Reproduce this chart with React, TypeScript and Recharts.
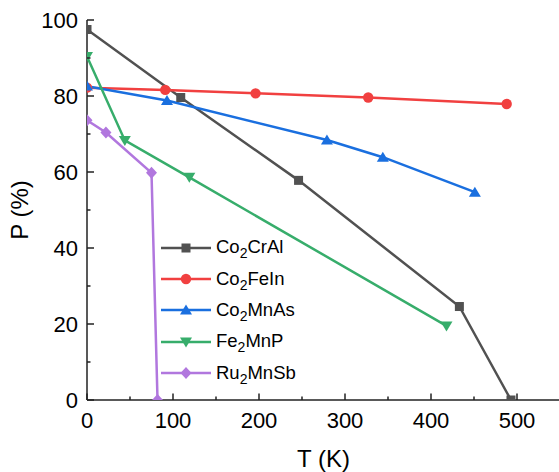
import React from "react";
import { LineChart, Line, XAxis, YAxis, Legend } from "recharts";

const FONT = "Arial, 'Liberation Sans', sans-serif";

// temperatures (K) and spin polarisation (%)
const co2CrAlT = [0, 109, 246, 433, 493];
const co2CrAlP = [97.5, 79.6, 57.8, 24.6, 0];
const co2FeInT = [0, 91, 196, 327, 488];
const co2FeInP = [82.2, 81.6, 80.7, 79.6, 77.9];
const co2MnAsT = [0, 93, 279, 344, 451];
const co2MnAsP = [82.6, 78.8, 68.4, 63.9, 54.7];
const fe2MnPT = [0, 44, 119, 418];
const fe2MnPP = [90.4, 68.3, 58.6, 19.5];
const ru2MnSbT = [0, 22, 75, 82];
const ru2MnSbP = [73.6, 70.4, 59.8, 0];

const xTicks = [0, 50, 100, 150, 200, 250, 300, 350, 400, 450, 500, 550];
const yTicks = [0, 10, 20, 30, 40, 50, 60, 70, 80, 90, 100];

const toPoints = (t: number[], p: number[]) => t.map((v, i) => ({ t: v, p: p[i] }));

type Shape = "square" | "circle" | "up" | "down" | "diamond";

const series: { name: [string, string, string]; color: string; shape: Shape; data: { t: number; p: number }[] }[] = [
  { name: ["Co", "2", "CrAl"], color: "#515151", shape: "square", data: toPoints(co2CrAlT, co2CrAlP) },
  { name: ["Co", "2", "FeIn"], color: "#F14040", shape: "circle", data: toPoints(co2FeInT, co2FeInP) },
  { name: ["Co", "2", "MnAs"], color: "#1A6FDF", shape: "up", data: toPoints(co2MnAsT, co2MnAsP) },
  { name: ["Fe", "2", "MnP"], color: "#37AD6B", shape: "down", data: toPoints(fe2MnPT, fe2MnPP) },
  { name: ["Ru", "2", "MnSb"], color: "#B177DE", shape: "diamond", data: toPoints(ru2MnSbT, ru2MnSbP) },
];

const AXIS = "#222";

const Marker = ({ cx, cy, shape, color }: { cx: number; cy: number; shape: Shape; color: string }) => {
  if (shape === "square") return <rect x={cx - 4.5} y={cy - 4.5} width={9} height={9} fill={color} />;
  if (shape === "circle") return <circle cx={cx} cy={cy} r={5.2} fill={color} />;
  if (shape === "up")
    return <polygon points={`${cx},${cy - 5.5} ${cx + 6},${cy + 4.5} ${cx - 6},${cy + 4.5}`} fill={color} />;
  if (shape === "down")
    return <polygon points={`${cx},${cy + 5.5} ${cx + 6},${cy - 4.5} ${cx - 6},${cy - 4.5}`} fill={color} />;
  return <polygon points={`${cx},${cy - 6} ${cx + 5.5},${cy} ${cx},${cy + 6} ${cx - 5.5},${cy}`} fill={color} />;
};

const BottomTick = (props: any) => {
  const { x, y, payload } = props;
  const major = payload.value % 100 === 0;
  return (
    <g>
      <line x1={x} y1={y} x2={x} y2={y - (major ? 6.5 : 3.5)} stroke={AXIS} strokeWidth={1.5} />
      {major && (
        <text x={x} y={y + 28} textAnchor="middle" fontFamily={FONT} fontSize={22} fill="#000">
          {payload.value}
        </text>
      )}
    </g>
  );
};

const TopTick = (props: any) => {
  const { x, y, payload } = props;
  const major = payload.value % 100 === 0;
  return <line x1={x} y1={y} x2={x} y2={y + (major ? 6.5 : 3.5)} stroke={AXIS} strokeWidth={1.5} />;
};

const LeftTick = (props: any) => {
  const { x, y, payload } = props;
  const major = payload.value % 20 === 0;
  return (
    <g>
      <line x1={x} y1={y} x2={x + (major ? 7 : 3.5)} y2={y} stroke={AXIS} strokeWidth={1.5} />
      {major && (
        <text x={x - 9} y={y + 8} textAnchor="end" fontFamily={FONT} fontSize={22} fill="#000">
          {payload.value}
        </text>
      )}
    </g>
  );
};

const RightTick = (props: any) => {
  const { x, y, payload } = props;
  const major = payload.value % 20 === 0;
  return <line x1={x} y1={y} x2={x - (major ? 7 : 3.5)} y2={y} stroke={AXIS} strokeWidth={1.5} />;
};

const renderLegend = () => (
  <div style={{ fontFamily: FONT, fontSize: 18.5, color: "#000" }}>
    {series.map((s) => (
      <div key={s.name.join("")} style={{ display: "flex", alignItems: "center", height: 31.4 }}>
        <svg width={50} height={20} style={{ display: "block" }}>
          <line x1={0} y1={10} x2={50} y2={10} stroke={s.color} strokeWidth={2.5} />
          <Marker cx={25} cy={10} shape={s.shape} color={s.color} />
        </svg>
        <span style={{ marginLeft: 5, whiteSpace: "nowrap", lineHeight: "20px" }}>
          {s.name[0]}
          <span style={{ fontSize: 14, position: "relative", top: 5 }}>{s.name[1]}</span>
          {s.name[2]}
        </span>
      </div>
    ))}
  </div>
);

const App = () => (
  <div style={{ position: "absolute", left: 0, top: 0, width: 559, height: 472, overflow: "hidden", background: "#fff" }}>
    <LineChart width={562} height={472} margin={{ top: 20, right: 2, left: 0, bottom: 0 }}>
      <XAxis
        xAxisId="bottom"
        type="number"
        dataKey="t"
        domain={[0, 550]}
        ticks={xTicks}
        interval={0}
        allowDataOverflow
        height={72}
        tickSize={0}
        tickMargin={0}
        tickLine={false}
        tick={<BottomTick />}
        axisLine={{ stroke: AXIS, strokeWidth: 1.5 }}
        label={{ value: "T (K)", position: "insideBottom", offset: 5, fontFamily: FONT, fontSize: 24, fill: "#000" }}
      />
      <XAxis
        xAxisId="top"
        orientation="top"
        type="number"
        dataKey="t"
        domain={[0, 550]}
        ticks={xTicks}
        interval={0}
        allowDataOverflow
        height={0}
        tickSize={0}
        tickMargin={0}
        tickLine={false}
        tick={<TopTick />}
        axisLine={{ stroke: AXIS, strokeWidth: 1.5 }}
      />
      <YAxis
        yAxisId="left"
        type="number"
        dataKey="p"
        domain={[0, 100]}
        ticks={yTicks}
        interval={0}
        allowDataOverflow
        width={87}
        tickSize={0}
        tickMargin={0}
        tickLine={false}
        tick={<LeftTick />}
        axisLine={{ stroke: AXIS, strokeWidth: 1.5 }}
        label={{
          content: ({ viewBox }: any) => {
            const cy = viewBox.y + viewBox.height / 2;
            return (
              <text
                x={19}
                y={cy}
                transform={`rotate(-90 19 ${cy})`}
                textAnchor="middle"
                dominantBaseline="central"
                fontFamily={FONT}
                fontSize={24}
                fill="#000"
              >
                P (%)
              </text>
            );
          },
        }}
      />
      <YAxis
        yAxisId="right"
        orientation="right"
        type="number"
        dataKey="p"
        domain={[0, 100]}
        ticks={yTicks}
        interval={0}
        allowDataOverflow
        width={0}
        tickSize={0}
        tickMargin={0}
        tickLine={false}
        tick={<RightTick />}
        axisLine={{ stroke: AXIS, strokeWidth: 1.5 }}
      />
      {series.map((s) => (
        <Line
          key={s.name.join("")}
          xAxisId="bottom"
          yAxisId="left"
          data={s.data}
          dataKey="p"
          type="linear"
          stroke={s.color}
          strokeWidth={2.5}
          isAnimationActive={false}
          dot={(props: any) => (
            <Marker key={`${s.name.join("")}-${props.index}`} cx={props.cx} cy={props.cy} shape={s.shape} color={s.color} />
          )}
          activeDot={false}
        />
      ))}
      <Legend
        layout="vertical"
        align="center"
        verticalAlign="middle"
        content={renderLegend}
        wrapperStyle={{ left: 161, top: 232, width: "auto" }}
      />
    </LineChart>
  </div>
);

export default App;
